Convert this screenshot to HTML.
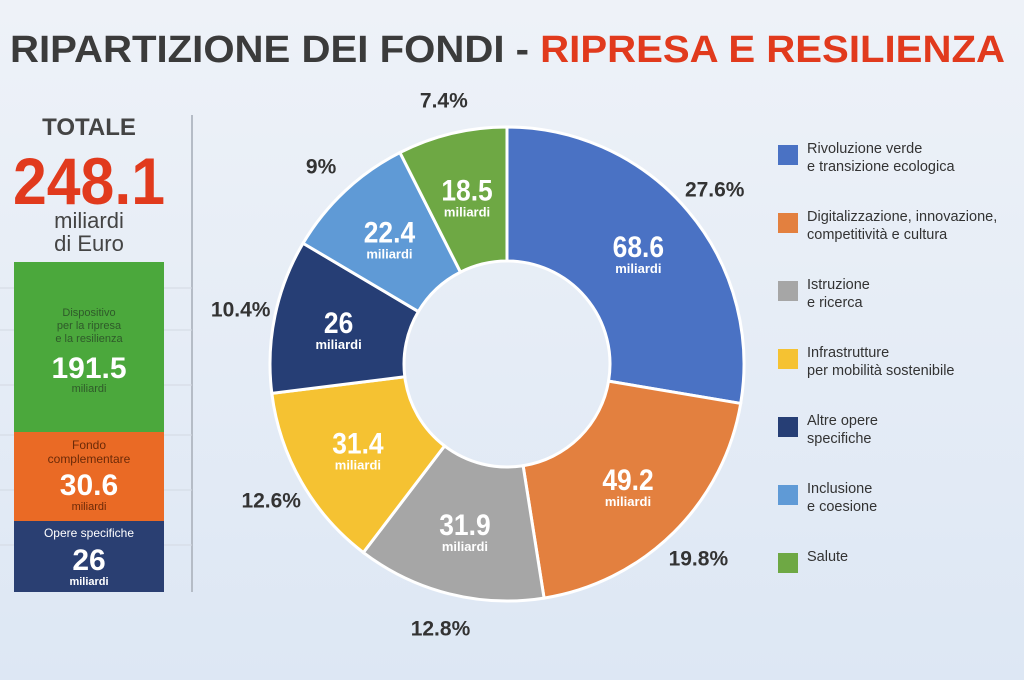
<!DOCTYPE html>
<html><head><meta charset="utf-8"><style>
body{margin:0;width:1024px;height:680px;overflow:hidden;background:linear-gradient(180deg,#eef2f8,#dde7f4);font-family:"Liberation Sans",sans-serif}
svg{display:block}
</style></head><body>
<svg width="1024" height="680" viewBox="0 0 1024 680">
<text x="10" y="62" font-size="38" font-weight="bold" textLength="995" lengthAdjust="spacingAndGlyphs"><tspan fill="#3b3b3b">RIPARTIZIONE DEI FONDI - </tspan><tspan fill="#e13a1d">RIPRESA E RESILIENZA</tspan></text>
<g>
<line x1="192" y1="115" x2="192" y2="592" stroke="#b5bcc6" stroke-width="2"/>
<g stroke="#d3d9e2" stroke-width="1"><line x1="0" y1="288" x2="192" y2="288"/><line x1="0" y1="330" x2="192" y2="330"/><line x1="0" y1="385" x2="192" y2="385"/><line x1="0" y1="435" x2="192" y2="435"/><line x1="0" y1="490" x2="192" y2="490"/><line x1="0" y1="545" x2="192" y2="545"/></g>
<text x="89" y="135" font-size="24" font-weight="bold" fill="#444" text-anchor="middle">TOTALE</text>
<text x="89" y="204" font-size="66" font-weight="bold" fill="#e13a1d" text-anchor="middle" textLength="152" lengthAdjust="spacingAndGlyphs">248.1</text>
<text x="89" y="228" font-size="22" fill="#444" text-anchor="middle">miliardi</text>
<text x="89" y="251" font-size="22" fill="#444" text-anchor="middle">di Euro</text>
<rect x="14" y="262" width="150" height="170" fill="#4ba83c"/>
<rect x="14" y="432" width="150" height="89" fill="#ea6a25"/>
<rect x="14" y="521" width="150" height="71" fill="#2a3f72"/>
<g text-anchor="middle" fill="#2f5a2a" font-size="11"><text x="89" y="316">Dispositivo</text><text x="89" y="329">per la ripresa</text><text x="89" y="342">e la resilienza</text></g>
<text x="89" y="378" font-size="30" font-weight="bold" fill="#fff" text-anchor="middle">191.5</text>
<text x="89" y="392" font-size="11" fill="#2f5a2a" text-anchor="middle">miliardi</text>
<g text-anchor="middle" fill="#6b2a08" font-size="12"><text x="89" y="449">Fondo</text><text x="89" y="463">complementare</text></g>
<text x="89" y="495" font-size="30" font-weight="bold" fill="#fff" text-anchor="middle">30.6</text>
<text x="89" y="510" font-size="11" fill="#6b2a08" text-anchor="middle">miliardi</text>
<text x="89" y="537" font-size="12" fill="#fff" text-anchor="middle">Opere specifiche</text>
<text x="89" y="570" font-size="30" font-weight="bold" fill="#fff" text-anchor="middle">26</text>
<text x="89" y="585" font-size="11" fill="#fff" text-anchor="middle" font-weight="bold">miliardi</text>
</g>
<g id="donut"></g>
<g id="legend"></g>
</svg>
<script>
const categories=[["Rivoluzione verde","e transizione ecologica"],["Digitalizzazione, innovazione,","competitività e cultura"],["Istruzione","e ricerca"],["Infrastrutture","per mobilità sostenibile"],["Altre opere","specifiche"],["Inclusione","e coesione"],["Salute"]];
const values=[68.6,49.2,31.9,31.4,26,22.4,18.5];
const valueLabels=["68.6","49.2","31.9","31.4","26","22.4","18.5"];
const percentLabels=["27.6%","19.8%","12.8%","12.6%","10.4%","9%","7.4%"];
const colors=["#4a72c4","#e3803f","#a6a6a6","#f5c232","#263e75","#5f9ad6","#6ea844"];
const NS="http://www.w3.org/2000/svg";
const cx=507,cy=364,R=237,r0=103;
const total=values.reduce((a,b)=>a+b,0);
const g=document.getElementById('donut');
function pt(a,rad){return [cx+rad*Math.sin(a),cy-rad*Math.cos(a)];}
function mk(tag,attrs,parent){const e=document.createElementNS(NS,tag);for(const k in attrs)e.setAttribute(k,attrs[k]);parent.appendChild(e);return e;}
let acc=0;
values.forEach((v,i)=>{
 const a0=acc/total*2*Math.PI;acc+=v;const a1=acc/total*2*Math.PI;
 const [x0,y0]=pt(a0,R),[x1,y1]=pt(a1,R),[x2,y2]=pt(a1,r0),[x3,y3]=pt(a0,r0);
 const lg=(a1-a0)>Math.PI?1:0;
 const p=mk('path',{d:`M${x0},${y0}A${R},${R} 0 ${lg} 1 ${x1},${y1}L${x2},${y2}A${r0},${r0} 0 ${lg} 0 ${x3},${y3}Z`,fill:colors[i],stroke:'#fff','stroke-width':3},g);
 
 
 const am=(a0+a1)/2;
 const [vx,vy]=pt(am,172);
 const t=mk('text',{x:vx,y:vy+4,'font-size':30,'font-weight':'bold',fill:'#fff','text-anchor':'middle',transform:`translate(${vx*0.12},0) scale(0.88,1)`},g);t.textContent=valueLabels[i];
 
 
 const m=mk('text',{x:vx,y:vy+20,'font-size':13,'font-weight':'bold',fill:'#fff','text-anchor':'middle'},g);m.textContent='miliardi';
 const [px,py]=pt(am,272);
 const pl=mk('text',{x:px,y:py+8,'font-size':21,'font-weight':'bold',fill:'#333','text-anchor':'middle'},g);pl.textContent=percentLabels[i];
 
 
});
const lg=document.getElementById('legend');
categories.forEach((c,i)=>{
 const y=145+i*68;
 const s=mk('rect',{x:778,y:y,width:20,height:20,fill:colors[i]},lg);
 
 
 c.forEach((line,j)=>{const t=mk('text',{x:807,y:y+8+j*18,'font-size':14.5,fill:'#333'},lg);t.textContent=line;
 
 });
});
</script>
</body></html>
